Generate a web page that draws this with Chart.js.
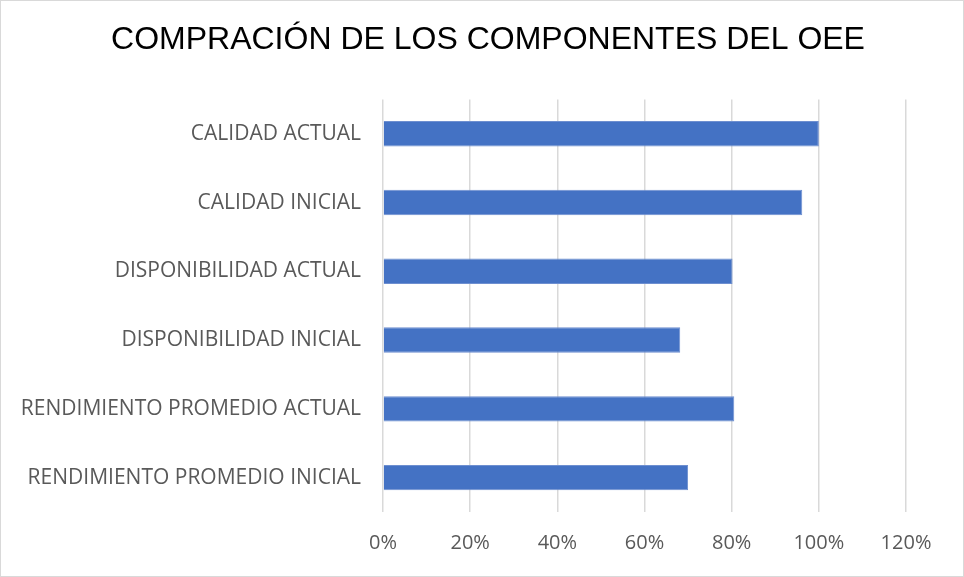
<!DOCTYPE html>
<html><head><meta charset="utf-8">
<script src="https://cdn.jsdelivr.net/npm/chart.js@4"></script>
<style>
html,body{margin:0;padding:0;background:#fff;}
#wrap{position:relative;width:962px;height:575px;border:1px solid #d9d9d9;}
</style></head><body>
<div id="wrap"><canvas id="c" width="962" height="575"></canvas></div>
<script>
const categories = ["CALIDAD ACTUAL","CALIDAD INICIAL","DISPONIBILIDAD ACTUAL","DISPONIBILIDAD INICIAL","RENDIMIENTO PROMEDIO ACTUAL","RENDIMIENTO PROMEDIO INICIAL"];
const values = [1.00, 0.962, 0.802, 0.682, 0.806, 0.700];
const xTicks = [0,0.2,0.4,0.6,0.8,1.0,1.2];
const titleText = "COMPRACIÓN DE LOS COMPONENTES DEL OEE";

new Chart(document.getElementById('c'), {
  type: 'bar',
  data: { labels: categories, datasets: [{ data: values, backgroundColor: '#4472c4', borderColor:'#6e8fd0', borderWidth:1, barPercentage: 0.37, categoryPercentage: 1.0 }] },
  options: {
    indexAxis: 'y', responsive: false, animation: false,
    layout: { padding: { left: 12, right: 0, top: 0, bottom: 0 } },
    plugins: {
      legend: { display: false }, tooltip: { enabled: false },
      title: { display: true, text: titleText, color: '#000', font: { family: 'Liberation Sans, Arial', size: 32, weight: 'normal' }, padding: { top: 20, bottom: 40 } }
    },
    scales: {
      x: {
        min: 0, max: 1.2,
        afterBuildTicks: s => { s.ticks = xTicks.map(v => ({ value: v })); },
        ticks: { callback: v => Math.round(v*100) + '%', color: '#595959', font: { family: 'Open Sans', size: 20 }, padding: 19 },
        grid: { color: '#d9d9d9', lineWidth: 1.5, drawTicks: false },
        border: { display: false },
        afterFit: s => { s.height = 64; }
      },
      y: {
        ticks: { color: '#595959', font: { family: 'Open Sans', size: 21 }, padding: 22 },
        grid: { display: false, drawTicks: false },
        border: { display: false },
        afterFit: s => { s.width = 370; }
      },
      yRight: {
        position: 'right', display: true,
        ticks: { display: false },
        grid: { display: false, drawTicks: false },
        border: { display: false },
        afterFit: s => { s.width = 57; }
      }
    }
  }
});
</script>
</body></html>
